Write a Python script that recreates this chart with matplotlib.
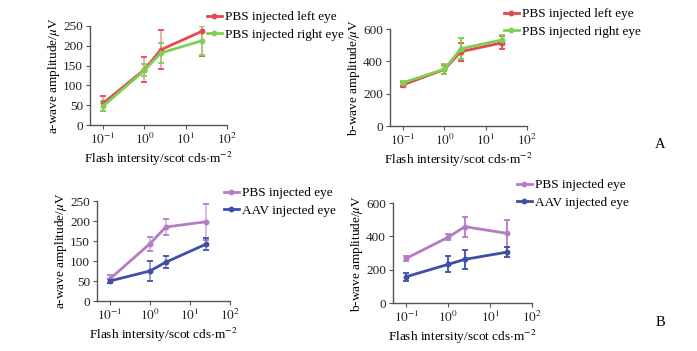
import numpy as np
import matplotlib
matplotlib.use("Agg")
import matplotlib.pyplot as plt
from matplotlib.lines import Line2D

plt.rcParams['font.family'] = ['Liberation Serif', 'DejaVu Serif']
plt.rcParams['mathtext.fontset'] = 'stix'

# flash intensities
flash = [0.1, 1.0, 2.5, 25.0]

# panel A, a-wave
a_left = [55, 140, 190, 237]
a_left_err = [19, 32, 49, 62]
a_right = [48, 138, 182, 213]
a_right_err = [12, 15, 25, 37]

# panel A, b-wave
b_left = [255, 350, 460, 515]
b_left_err = [15, 30, 55, 40]
b_right = [268, 352, 478, 533]
b_right_err = [12, 30, 65, 30]

# panel B, a-wave
a_pbs = [55, 143, 185, 198]
a_pbs_err = [10, 18, 20, 45]
a_aav = [50, 75, 97, 142]
a_aav_err = [6, 25, 15, 15]

# panel B, b-wave
b_pbs = [268, 395, 458, 418]
b_pbs_err = [15, 18, 60, 80]
b_aav = [158, 232, 262, 305]
b_aav_err = [25, 48, 55, 30]

RED = '#e5484e'
GREEN = '#7fcf55'
PURPLE = '#b57cc6'
BLUE = '#3f4fa6'
W, H = 697.0, 351.0


def px_axes(fig, x0, y_top, x1, y_bot):
	return fig.add_axes([x0 / W, 1 - y_bot / H, (x1 - x0) / W, (y_bot - y_top) / H])


def panel(ax, series, ylim, yticks, ylabel, ealpha):
	for y, e, c, lab in series:
		ax.errorbar(flash, y, yerr=e, color=c, ecolor=c, elinewidth=1.5, capsize=2.5,
			capthick=1.3, lw=2.0, marker='o', ms=3.2, label=lab)
	for line in ax.collections:
		line.set_alpha(ealpha)
	ax.set_xscale('log')
	ax.set_xlim(10 ** -1.32, 10 ** 2.0)
	ax.set_ylim(ylim)
	ax.set_yticks(yticks)
	ax.set_xticks([0.1, 1, 10, 100])
	ax.set_xticklabels([r'$10^{-1}$', r'$10^{0}$', r'$10^{1}$', r'$10^{2}$'])
	for s in ['top', 'right']:
		ax.spines[s].set_visible(False)
	for s in ['left', 'bottom']:
		ax.spines[s].set_color('#555555')
		ax.spines[s].set_linewidth(1.0)
	ax.tick_params(which='both', colors='#555555', labelcolor='#222222', labelsize=9.5, direction='out', pad=2)
	ax.tick_params(which='major', length=3)
	ax.tick_params(which='minor', length=2)
	ax.set_ylabel(ylabel, fontsize=9.5, labelpad=1)
	ax.set_xlabel(r'Flash intersity/scot cds$\cdot$m$^{-2}$', fontsize=9.5, labelpad=2)
	ax.patch.set_alpha(0)


def add_legend(fig, ax, series, x, y_top):
	handles = [Line2D([], [], color=c, lw=2.0, marker='o', ms=3.2) for _, _, c, _ in series]
	labels = [lab for _, _, _, lab in series]
	ax.legend(handles, labels, loc='upper left', bbox_to_anchor=(x / W, 1 - y_top / H),
		bbox_transform=fig.transFigure, frameon=False, fontsize=9.5, handlelength=1.1,
		handletextpad=0.3, labelspacing=0.4, borderpad=0, borderaxespad=0)


fig = plt.figure(figsize=(W / 100, H / 100), dpi=100)

s1 = [(a_left, a_left_err, RED, 'PBS injected left eye'),
	(a_right, a_right_err, GREEN, 'PBS injected right eye')]
ax1 = px_axes(fig, 90, 26, 227, 125)
panel(ax1, s1, (0, 250), [0, 50, 100, 150, 200, 250], r'a-wave amplitude/$\mu$V', 0.45)
add_legend(fig, ax1, s1, 207, 11)

s2 = [(b_left, b_left_err, RED, 'PBS injected left eye'),
	(b_right, b_right_err, GREEN, 'PBS injected right eye')]
ax2 = px_axes(fig, 390, 29, 527, 126)
panel(ax2, s2, (0, 600), [0, 200, 400, 600], r'b-wave amplitude/$\mu$V', 0.9)
add_legend(fig, ax2, s2, 504, 8)

s3 = [(a_pbs, a_pbs_err, PURPLE, 'PBS injected eye'),
	(a_aav, a_aav_err, BLUE, 'AAV injected eye')]
ax3 = px_axes(fig, 97, 201, 230, 301)
panel(ax3, s3, (0, 250), [0, 50, 100, 150, 200, 250], r'a-wave amplitude/$\mu$V', 0.5)
add_legend(fig, ax3, s3, 224, 187)

s4 = [(b_pbs, b_pbs_err, PURPLE, 'PBS injected eye'),
	(b_aav, b_aav_err, BLUE, 'AAV injected eye')]
ax4 = px_axes(fig, 393, 203, 532, 303)
panel(ax4, s4, (0, 600), [0, 200, 400, 600], r'b-wave amplitude/$\mu$V', 0.9)
add_legend(fig, ax4, s4, 517, 179)

fig.text(660 / W, 1 - 145 / H, 'A', fontsize=10.5, ha='center', va='center')
fig.text(660 / W, 1 - 322 / H, 'B', fontsize=10.5, ha='center', va='center')

fig.savefig('out.png', dpi=100)
